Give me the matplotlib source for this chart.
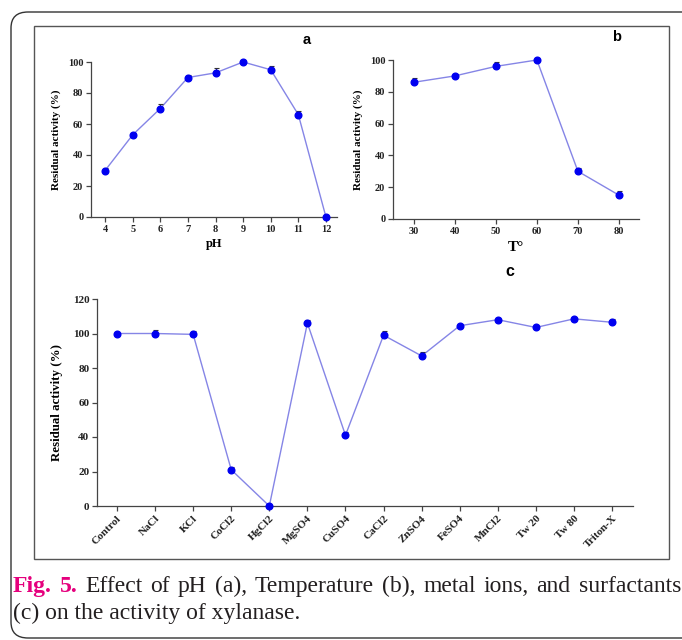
import matplotlib.pyplot as plt
from matplotlib.patches import FancyBboxPatch, Rectangle

# panel a: pH
ph = [4, 5, 6, 7, 8, 9, 10, 11, 12]
ph_act = [30, 53, 70, 90, 93, 100, 95, 66, 0]
ph_err = [1.5, 1.5, 3, 1.5, 3, 0.5, 2.5, 2.5, 0]

# panel b: temperature
temp = [30, 40, 50, 60, 70, 80]
temp_act = [86, 90, 96, 100, 30, 15]
temp_err = [2.5, 1, 2.5, 0.5, 2, 2.5]

# panel c: metal ions and surfactants
agents = ['Control', 'NaCl', 'KCl', 'CoCl2', 'HgCl2', 'MgSO4', 'CuSO4',
          'CaCl2', 'ZnSO4', 'FeSO4', 'MnCl2', 'Tw 20', 'Tw 80', 'Triton-X']
agent_act = [100, 100, 99.5, 21, 0, 106, 41, 99, 87, 104.5, 108, 103.5, 108.5, 106.5]
agent_err = [0.5, 2, 2, 1.5, 0, 2, 2, 2.5, 2.5, 0.5, 0.5, 0.5, 0.5, 2]

caption_1 = 'Effect of pH (a), Temperature (b), metal ions, and surfactants'
caption_2 = '(c) on the activity of xylanase.'

W, H = 682, 640
LINE = '#8585e6'
MARK = '#0000f0'
SERIF = 'Liberation Serif'
SANS = 'Liberation Sans'
CAP_FS = 17


def px_axes(fig, left, right, top, bottom):
    return fig.add_axes([left / W, 1 - bottom / H, (right - left) / W, (bottom - top) / H])


def style_axes(ax, fs):
    for s in ['top', 'right']:
        ax.spines[s].set_visible(False)
    for s in ['left', 'bottom']:
        ax.spines[s].set_color('#444444')
        ax.spines[s].set_linewidth(0.9)
    ax.tick_params(direction='out', length=3.5, width=0.9, color='#444444', labelsize=fs, pad=2)
    for lab in ax.get_xticklabels() + ax.get_yticklabels():
        lab.set_fontfamily(SERIF)
        lab.set_fontweight('bold')
        lab.set_color('#222222')


def draw_series(ax, x, y, err):
    ax.plot(x, y, color=LINE, lw=1.0, zorder=2, clip_on=False)
    ax.errorbar(x, y, yerr=[[0] * len(err), err], fmt='none', ecolor='#333333',
                elinewidth=0.8, capsize=1.8, capthick=0.8, zorder=3, clip_on=False)
    ax.plot(x, y, 'o', color=MARK, ms=4.8, zorder=4, clip_on=False)


fig = plt.figure(figsize=(W / 100, H / 100), dpi=100)
fig.patch.set_facecolor('white')

# outer rounded border and inner figure frame
fig.patches.append(FancyBboxPatch((11 / W, 1 - 638 / H), 720 / W, 626 / H,
                                  boxstyle='round,pad=0,rounding_size=0.025',
                                  transform=fig.transFigure, fill=False,
                                  edgecolor='#333333', lw=1.0))
fig.patches.append(Rectangle((34 / W, 1 - 559 / H), 635 / W, 533 / H,
                             transform=fig.transFigure, fill=False,
                             edgecolor='#555555', lw=1.0))

# panel a
ax1 = px_axes(fig, 91, 337, 62, 217)
draw_series(ax1, ph, ph_act, ph_err)
ax1.set_xlim(3.49, 12.4)
ax1.set_ylim(0, 100)
ax1.set_xticks(ph)
ax1.set_yticks([0, 20, 40, 60, 80, 100])
style_axes(ax1, 7.5)
ax1.set_xlabel('pH', fontfamily=SERIF, fontweight='bold', fontsize=9, labelpad=3)
ax1.set_ylabel('Residual activity (%)', fontfamily=SERIF, fontweight='bold', fontsize=8, labelpad=5)
fig.text(307 / W, 1 - 40 / H, 'a', fontfamily=SANS, fontweight='bold', fontsize=10.5,
         ha='center', va='center')

# panel b
ax2 = px_axes(fig, 393, 639, 60, 219)
draw_series(ax2, temp, temp_act, temp_err)
ax2.set_xlim(24.9, 84.9)
ax2.set_ylim(0, 100)
ax2.set_xticks(temp)
ax2.set_yticks([0, 20, 40, 60, 80, 100])
style_axes(ax2, 7.5)
ax2.set_xlabel('T°', fontfamily=SERIF, fontweight='bold', fontsize=11, labelpad=4)
ax2.set_ylabel('Residual activity (%)', fontfamily=SERIF, fontweight='bold', fontsize=8, labelpad=5)
fig.text(617 / W, 1 - 37 / H, 'b', fontfamily=SANS, fontweight='bold', fontsize=10.5,
         ha='center', va='center')

# panel c
xc = list(range(len(agents)))
ax3 = px_axes(fig, 97, 633, 299, 506)
draw_series(ax3, xc, agent_act, agent_err)
ax3.set_xlim(-0.525, 13.55)
ax3.set_ylim(0, 120)
ax3.set_xticks(xc)
ax3.set_xticklabels(agents, rotation=45, ha='right', rotation_mode='anchor')
ax3.set_yticks([0, 20, 40, 60, 80, 100, 120])
style_axes(ax3, 8)
ax3.set_ylabel('Residual activity (%)', fontfamily=SERIF, fontweight='bold', fontsize=9.3, labelpad=7)
fig.text(510 / W, 1 - 272 / H, 'c', fontfamily=SANS, fontweight='bold', fontsize=11.5,
         ha='center', va='center')

# caption, first line spread between x=13 and the right edge
renderer = fig.canvas.get_renderer()
words = [('Fig.', True), ('5.', True)] + [(w, False) for w in caption_1.split()]
items = []
for w, bold in words:
    t = fig.text(0, 1 - 592 / H, w, fontfamily=SERIF, fontsize=CAP_FS,
                 fontweight='bold' if bold else 'normal',
                 color='#e5007d' if bold else '#231f20', ha='left', va='baseline')
    items.append(t)
widths = [t.get_window_extent(renderer).width for t in items]
gap = max(3.5, (681 - 13 - sum(widths)) / (len(items) - 1))
x = 13
for t, wdt in zip(items, widths):
    t.set_x(x / W)
    x += wdt + gap
fig.text(13 / W, 1 - 619 / H, caption_2, fontfamily=SERIF, fontsize=CAP_FS,
         color='#231f20', ha='left', va='baseline')

fig.savefig('out.png', dpi=100)
